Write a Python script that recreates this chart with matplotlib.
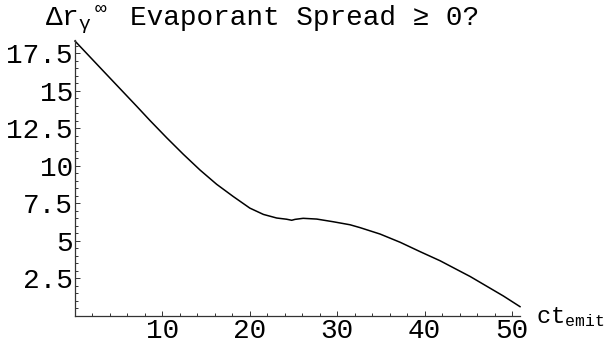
import matplotlib
import matplotlib.pyplot as plt
from matplotlib.ticker import FixedLocator, MultipleLocator

matplotlib.use("Agg")

# values
emit_time = [0.0, 3.24, 7.06, 8.58, 10.49, 12.39, 14.3, 16.2, 18.11, 20.0,
             21.55, 23.07, 24.2, 24.79, 25.17, 26.1, 27.65, 29.55, 31.46,
             32.6, 34.9, 37.2, 39.5, 41.76, 44.05, 45.2, 49.0, 50.9]
spread = [18.3, 16.3, 13.95, 13.0, 11.85, 10.75, 9.7, 8.75, 7.93, 7.16,
          6.74, 6.5, 6.42, 6.35, 6.41, 6.48, 6.43, 6.25, 6.05,
          5.86, 5.43, 4.88, 4.25, 3.65, 2.95, 2.6, 1.3, 0.59]

x_major = [10, 20, 30, 40, 50]
y_major = [2.5, 5, 7.5, 10, 12.5, 15, 17.5]
y_labels = ["2.5", "5", "7.5", "10", "12.5", "15", "17.5"]

FONT = ["Liberation Mono", "DejaVu Sans Mono"]
FS = 20

plt.rcParams["font.family"] = FONT
plt.rcParams["mathtext.fontset"] = "custom"
plt.rcParams["mathtext.rm"] = "Liberation Mono"
plt.rcParams["mathtext.it"] = "Liberation Mono"

W, H = 616, 350
fig = plt.figure(figsize=(W / 100, H / 100), dpi=100)
fig.patch.set_facecolor("white")

ax = fig.add_axes([75 / W, (H - 315.5) / H, (520 - 75) / W, (315.5 - 40) / H])
ax.plot(emit_time, spread, color="black", lw=1.1, clip_on=False)

ax.set_xlim(0, 50.9)
ax.set_ylim(0, 18.37)

for side in ("top", "right"):
    ax.spines[side].set_visible(False)
for side in ("left", "bottom"):
    ax.spines[side].set_color("#333333")
    ax.spines[side].set_linewidth(0.9)

ax.xaxis.set_major_locator(FixedLocator(x_major))
ax.xaxis.set_minor_locator(MultipleLocator(2))
ax.yaxis.set_major_locator(FixedLocator(y_major))
ax.yaxis.set_minor_locator(MultipleLocator(0.5))
ax.set_yticklabels(y_labels)

ax.tick_params(which="both", direction="in", colors="#333333", width=0.7,
               labelcolor="black", labelsize=FS)
ax.tick_params(which="major", length=3.6)
ax.tick_params(which="minor", length=2.0)
ax.tick_params(axis="x", which="major", pad=2)
ax.tick_params(axis="y", which="major", pad=1.5)

fig.text(45 / W, (H - 25) / H, r"$\Delta\mathrm{r}_{\gamma}\,{}^{\infty}$",
         fontsize=FS, ha="left", va="baseline")
fig.text(130 / W, (H - 25) / H, "Evaporant Spread \u2265 0?",
         fontsize=FS, ha="left", va="baseline", family=FONT)
fig.text(536 / W, (H - 317) / H, r"$\mathrm{ct}_{\mathrm{emit}}$",
         fontsize=17, ha="left", va="center")

fig.savefig("out.png", dpi=100)
